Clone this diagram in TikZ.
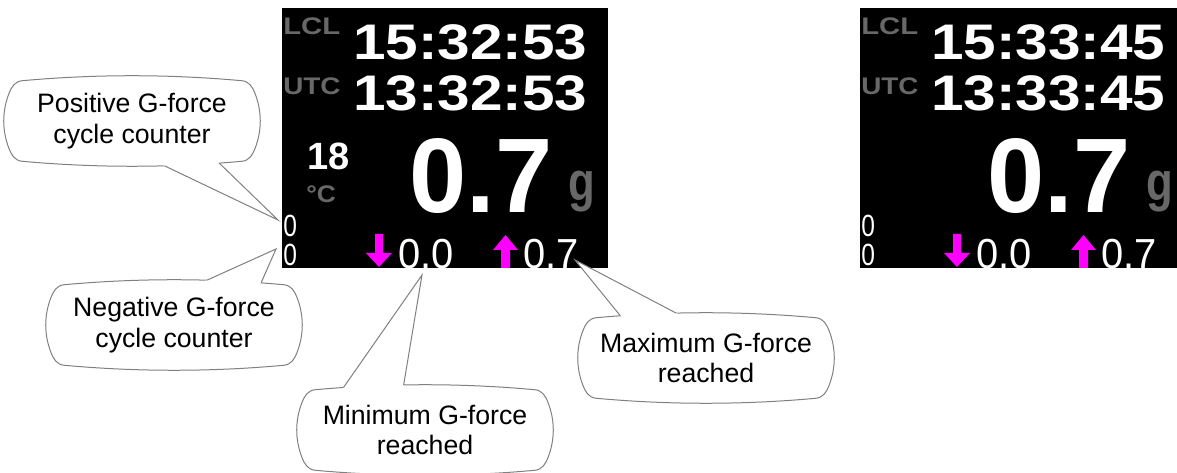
\documentclass[tikz,border=0pt]{standalone}
\usepackage{fontspec}
\usepackage{graphicx}
\setmainfont{Liberation Sans}
\usetikzlibrary{calc,intersections}

\definecolor{dimgrey}{RGB}{104,104,104}
\definecolor{calloutgrey}{RGB}{128,128,128}
\definecolor{lcdmagenta}{RGB}{255,0,255}

\newcommand\wide[2]{\scalebox{#1}[1]{#2}}

% outline of a speech bubble round a node (sides bulge a little)
\newcommand\bubblepath[1]{%
  ([xshift=10pt]#1.north west) .. controls +(54.8pt,5pt) and +(-54.8pt,5pt) .. ([xshift=-10pt]#1.north east)
  .. controls +(5.5pt,-0.5pt) and +(-1.9pt,5.1pt) .. ([yshift=-10pt]#1.north east)
  .. controls +(5pt,-13.3pt) and +(5pt,13.3pt) .. ([yshift=10pt]#1.south east)
  .. controls +(-1.9pt,-5.1pt) and +(5.5pt,0.5pt) .. ([xshift=-10pt]#1.south east)
  .. controls +(-54.8pt,-5pt) and +(54.8pt,-5pt) .. ([xshift=10pt]#1.south west)
  .. controls +(-5.5pt,0.5pt) and +(1.9pt,-5.1pt) .. ([yshift=10pt]#1.south west)
  .. controls +(-5pt,13.3pt) and +(-5pt,-13.3pt) .. ([yshift=-10pt]#1.north west)
  .. controls +(1.9pt,5.1pt) and +(-5.5pt,-0.5pt) .. ([xshift=10pt]#1.north west) -- cycle}

% bubble, side of the pointer, pointer mouth, tip
\newcommand\drawcallout[5]{%
  \draw[bubbleline, name path=#1-edge] \bubblepath{#1};
  \coordinate (#1-a) at ($(#1.#2 west)!#3!(#1.#2 east)$);
  \coordinate (#1-b) at ($(#1.#2 west)!#4!(#1.#2 east)$);
  \path[name path=#1-la] (#1-a) -- (#5);
  \path[name path=#1-lb] (#1-b) -- (#5);
  \path[name intersections={of=#1-edge and #1-la, by=#1-ia}];
  \path[name intersections={of=#1-edge and #1-lb, by=#1-ib}];
  \fill[white] (#1-a) -- (#5) -- (#1-b) -- cycle;
  \draw[bubbleline] (#1-ia) -- (#5) -- (#1-ib);
}

\tikzset{
  lcd/.style={inner sep=0pt, anchor=base west, text=white},
  lcdtime/.style={lcd, font=\bfseries\fontsize{37.5}{38}\selectfont},
  lcdbig/.style={lcd, font=\bfseries\fontsize{79.5}{80}\selectfont},
  lcdunit/.style={lcd, text=dimgrey, font=\bfseries\fontsize{41}{41}\selectfont},
  lcdlabel/.style={lcd, text=dimgrey, font=\bfseries\fontsize{18}{18}\selectfont},
  lcdtemp/.style={lcd, font=\bfseries\fontsize{28.5}{29}\selectfont},
  lcdsmall/.style={lcd, font=\fontsize{31.5}{32}\selectfont},
  lcdcount/.style={lcd, font=\fontsize{23}{23}\selectfont},
  lcdarrow/.style={fill=lcdmagenta},
  bubble/.style={inner sep=0pt, minimum width=184.5pt, minimum height=60pt,
    align=center, font=\fontsize{20}{23}\selectfont},
  bubbleline/.style={draw=calloutgrey, line width=0.75pt},
}

\begin{document}
\begin{tikzpicture}[x=0.75pt,y=-0.75pt]
  \useasboundingbox (0,0) rectangle (1177,473);

  % the two display screens
  \foreach \i/\sx/\sw/\tl/\tu in {1/0/608/15:32:53/13:32:53, 2/578/599/15:33:45/13:33:45} {
    \begin{scope}[shift={(\sx,0)}]
      \clip (282,8) rectangle (\sw,268);
      \fill[black] (282,8) rectangle (\sw,268);
      \node[lcdlabel] (lcl\i) at (283,35) {\wide{1.22}{LCL}};
      \node[lcdtime] (tloc\i) at (353,60) {\wide{1.17}{\tl}};
      \node[lcdlabel] (utc\i) at (283,95) {\wide{1.16}{UTC}};
      \node[lcdtime] (tutc\i) at (353,111) {\wide{1.17}{\tu}};
      \node[lcdbig] (gval\i) at (409,213) {\wide{0.97}{0.7}};
      \node[lcdunit] (gunit\i) at (568,201) {\wide{0.8}{g}};
      \node[lcdcount] (pcnt\i) at (283,237) {\wide{0.8}{0}};
      \node[lcdcount] (ncnt\i) at (283,266) {\wide{0.8}{0}};
      \fill[lcdarrow] (375,234) -- (383,234) -- (383,253) -- (392,253) -- (379,267)
        -- (366,253) -- (375,253) -- cycle;
      \node[lcdsmall] (gmin\i) at (398,269) {\wide{0.95}{0.0}};
      \fill[lcdarrow] (505.5,235) -- (518,250) -- (510,250) -- (510,268) -- (501,268)
        -- (501,250) -- (493,250) -- cycle;
      \node[lcdsmall] (gmax\i) at (523,269) {\wide{0.95}{0.7}};
    \end{scope}
  }
  \node[lcdtemp] (temp) at (307,170) {18};
  \node[lcdlabel] (degc) at (306,203) {\wide{1.1}{°C}};

  % callouts
  \node[bubble] (poscount) at (132,121) {Positive G-force\\cycle counter};
  \node[bubble] (negcount) at (174,325) {Negative G-force\\cycle counter};
  \node[bubble] (minforce) at (425,430) {Minimum G-force\\reached};
  \node[bubble] (maxforce) at (706,358) {Maximum G-force\\reached};
  \coordinate (postip) at (278,220);
  \coordinate (negtip) at (276,249);
  \coordinate (mintip) at (422,275);
  \coordinate (maxtip) at (575,260);
  \drawcallout{poscount}{south}{0.593}{0.846}{postip}
  \drawcallout{negcount}{north}{0.593}{0.85}{negtip}
  \drawcallout{minforce}{north}{0.163}{0.41}{mintip}
  \drawcallout{maxforce}{north}{0.159}{0.415}{maxtip}
\end{tikzpicture}
\end{document}
